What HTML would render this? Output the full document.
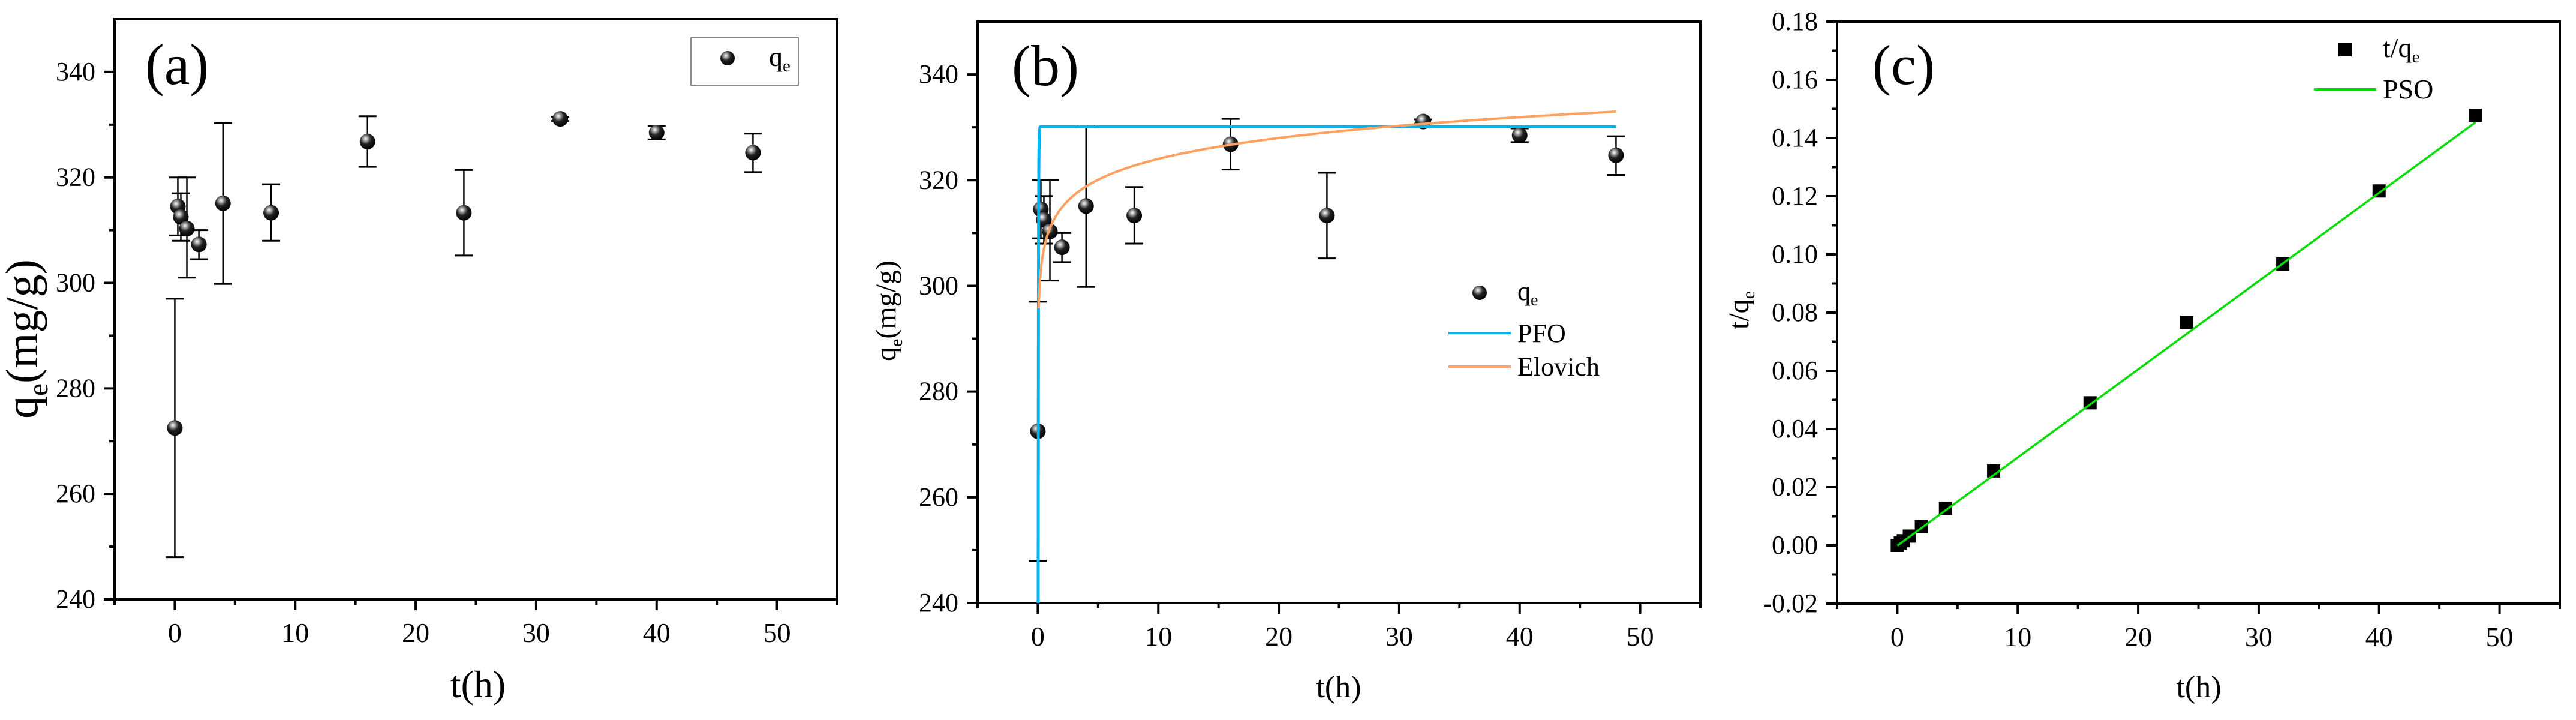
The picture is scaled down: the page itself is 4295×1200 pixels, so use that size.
<!DOCTYPE html>
<html><head><meta charset="utf-8">
<style>
html,body{margin:0;padding:0;background:#fff;}
svg{display:block;}
svg text{font-family:"Liberation Serif","Times New Roman",serif;}
</style></head>
<body>
<svg id="fig" width="4295" height="1200" viewBox="0 0 4295 1200" xmlns="http://www.w3.org/2000/svg" font-family="Liberation Serif, Times New Roman, serif">
<defs>
<radialGradient id="sph" cx="0.38" cy="0.32" r="0.7">
<stop offset="0" stop-color="#ffffff"/>
<stop offset="0.15" stop-color="#bbbbbb"/>
<stop offset="0.5" stop-color="#222"/>
<stop offset="1" stop-color="#000"/>
</radialGradient>
<clipPath id="clipB"><rect x="1630" y="36" width="1205" height="969"/></clipPath>
</defs>
<g id="root" font-family="Liberation Serif, Times New Roman, serif"></g>
</svg>
<script>
// shared data
const times = [0, 0.25, 0.5, 1, 2, 4, 8, 16, 24, 32, 40, 48];
const qeValues = [272.5, 314.5, 312.5, 310.3, 307.3, 315.1, 313.3, 326.8, 313.3, 331.1, 328.5, 324.7];
const errLow = [248, 309, 308, 301, 304.5, 299.8, 308, 322, 305.2, 330.7, 327.2, 321];
const errHigh = [297, 320, 317, 320, 310, 330.3, 318.7, 331.6, 321.4, 331.5, 329.8, 328.3];
const ratioTimes = [0, 0.25, 0.5, 1, 2, 4, 8, 16, 24, 32, 40, 48];
const ratioValues = [0.0000, 0.0008, 0.0016, 0.0032, 0.0065, 0.0127, 0.0256, 0.0490, 0.0767, 0.0967, 0.1218, 0.1478];
const psoSlope = 0.003031;
const psoIntercept = -0.0001;
const pfoQe = 330.1, pfoK = 45;
const elovichA = 310.9, elovichB = 5.7;
const xTicks = [0, 10, 20, 30, 40, 50];
const qTicks = [240, 260, 280, 300, 320, 340];
const rTicks = [-0.02, 0.00, 0.02, 0.04, 0.06, 0.08, 0.10, 0.12, 0.14, 0.16, 0.18];

const NS = "http://www.w3.org/2000/svg";
const FONT = "Liberation Serif, Times New Roman, serif";
const root = document.getElementById('root');
function mk(tag, attrs, parent){
  const e = document.createElementNS(NS, tag);
  for (const k in attrs) e.setAttribute(k, attrs[k]);
  if (tag === 'text') e.setAttribute('font-family', FONT);
  (parent||root).appendChild(e);
  return e;
}
function scale(d0,d1,r0,r1){ return v => r0 + (v-d0)/(d1-d0)*(r1-r0); }

function axes(p, yTicks, yFmt, ymin, ymax, name){
  const g = mk('g', {});
  
  
  const X = scale(-5,55,p.L,p.R), Y = scale(ymin,ymax,p.B,p.T);
  mk('rect',{x:p.L,y:p.T,width:p.R-p.L,height:p.B-p.T,fill:'none',stroke:'#000','stroke-width':4},g);
  for (let v=-5; v<=55; v+=5){
    const major = v%10===0;
    mk('line',{x1:X(v),x2:X(v),y1:p.B,y2:p.B+(major?18:9),stroke:'#000','stroke-width':4},g);
  }
  xTicks.forEach(v=>{
    const t = mk('text',{x:X(v),y:p.B+71,'font-size':46,'text-anchor':'middle'},g);
    
    
    t.textContent = v;
  });
  const step = yTicks[1]-yTicks[0];
  for (let i=0;i<yTicks.length;i++){
    const v = yTicks[i];
    mk('line',{x1:p.L-18,x2:p.L,y1:Y(v),y2:Y(v),stroke:'#000','stroke-width':4},g);
    const m = v+step/2;
    if (m < ymax) mk('line',{x1:p.L-9,x2:p.L,y1:Y(m),y2:Y(m),stroke:'#000','stroke-width':4},g);
    const t = mk('text',{x:p.L-32,y:Y(v)+14,'font-size':44,'text-anchor':'end'},g);
    
    
    t.textContent = yFmt(v);
  }
  return {X,Y};
}

function sphere(x,y,r,parent){
  const c = mk('circle',{cx:x,cy:y,r:r,fill:'url(#sph)'},parent);
  
  
  return c;
}

function qePoints(s, parent){
  times.forEach((t,i)=>{
    const x = s.X(t);
    const g = mk('g',{},parent);
    
    
    mk('line',{x1:x,x2:x,y1:s.Y(errLow[i]),y2:s.Y(errHigh[i]),stroke:'#000','stroke-width':2.5},g);
    mk('line',{x1:x-15,x2:x+15,y1:s.Y(errLow[i]),y2:s.Y(errLow[i]),stroke:'#000','stroke-width':3},g);
    mk('line',{x1:x-15,x2:x+15,y1:s.Y(errHigh[i]),y2:s.Y(errHigh[i]),stroke:'#000','stroke-width':3},g);
  });
  times.forEach((t,i)=> sphere(s.X(t), s.Y(qeValues[i]), 13, parent));
}

function qLabel(x,y,size,name,rot){
  const t = mk('text',{x:x,y:y,'font-size':size,'text-anchor':'middle'});
  if (rot) t.setAttribute('transform','rotate(-90 '+x+' '+y+')');
  
  
  t.innerHTML = 'q<tspan font-size="'+Math.round(size*0.62)+'" dy="'+Math.round(size*0.22)+'">e</tspan><tspan dy="-'+Math.round(size*0.22)+'">(mg/g)</tspan>';
}
function plain(x,y,size,txt,name,anchor){
  const t = mk('text',{x:x,y:y,'font-size':size,'text-anchor':anchor||'middle'});
  
  
  t.textContent = txt;
  return t;
}

// Panel (a)
const pa = {L:191,R:1396,T:32,B:999};
const sa = axes(pa, qTicks, v=>v, 240, 350, 'panel-a');
const ga = mk('g',{});


qePoints(sa, ga);
plain(295,140,96,'(a)','panel-a-label');
qLabel(62,565,76,'panel-a-y-axis-title',true);
plain(797,1162,64,'t(h)','panel-a-x-axis-title');
const lgA = mk('rect',{x:1152,y:63,width:179,height:79,fill:'none',stroke:'#888','stroke-width':2});


sphere(1213,97,12);
{const t=mk('text',{x:1282,y:110,'font-size':46});t.innerHTML='q<tspan font-size="29" dy="9">e</tspan>';}

// Panel (b)
const pb = {L:1630,R:2835,T:36,B:1005};
const sb = axes(pb, qTicks, v=>v, 240, 350, 'panel-b');
const gb = mk('g',{'clip-path':'url(#clipB)'});


let pfo='', elo='';
for (let i=0;i<=1200;i++){
  const t = 0.02 + (48-0.02)*Math.pow(i/1200,2.2);
  const q1 = pfoQe*(1-Math.exp(-pfoK*t));
  pfo += (i?'L':'M') + sb.X(t).toFixed(1)+','+Math.min(sb.Y(q1),1100).toFixed(1);
  const t2 = 0.07 + (48-0.07)*Math.pow(i/1200,2.2);
  const q2 = elovichA + elovichB*Math.log(t2);
  elo += (i?'L':'M') + sb.X(t2).toFixed(1)+','+sb.Y(q2).toFixed(1);
}
qePoints(sb, gb);
{const p=mk('path',{d:pfo,fill:'none',stroke:'#00b4f0','stroke-width':5},gb);}
{const p=mk('path',{d:elo,fill:'none',stroke:'#ffa060','stroke-width':4},gb);}
plain(1743,142,96,'(b)','panel-b-label');
qLabel(1493,518,48,'panel-b-y-axis-title',true);
plain(2232,1162,52,'t(h)','panel-b-x-axis-title');
sphere(2467,488,12);
{const t=mk('text',{x:2530,y:500,'font-size':44});t.innerHTML='q<tspan font-size="28" dy="9">e</tspan>';}
{const l=mk('line',{x1:2415,x2:2519,y1:555,y2:555,stroke:'#00b4f0','stroke-width':4});}
plain(2530,570,44,'PFO','legend-entry','start');
{const l=mk('line',{x1:2415,x2:2519,y1:611,y2:611,stroke:'#ffa060','stroke-width':4});}
plain(2530,626,44,'Elovich','legend-entry','start');

// Panel (c)
const pc = {L:3063,R:4268,T:36,B:1006};
const sc = axes(pc, rTicks, v=>v.toFixed(2), -0.02, 0.18, 'panel-c');
const gc = mk('g',{});


ratioTimes.forEach((t,i)=>{
  const r = mk('rect',{x:sc.X(t)-11,y:sc.Y(ratioValues[i])-11,width:22,height:22,fill:'#000'},gc);
  
  
});
{const l=mk('line',{x1:sc.X(0),y1:sc.Y(psoIntercept),x2:sc.X(48),y2:sc.Y(psoIntercept+psoSlope*48),stroke:'#00dd00','stroke-width':3.5},gc);
}
plain(3174,140,94,'(c)','panel-c-label');
{const t=mk('text',{x:2915,y:517,'font-size':48,'text-anchor':'middle',transform:'rotate(-90 2915 517)'});t.innerHTML='t/q<tspan font-size="30" dy="10">e</tspan>';}
plain(3666,1162,52,'t(h)','panel-c-x-axis-title');
{const r=mk('rect',{x:3899,y:72,width:22,height:22,fill:'#000'});}
{const t=mk('text',{x:3973,y:95,'font-size':46});t.innerHTML='t/q<tspan font-size="29" dy="9">e</tspan>';}
{const l=mk('line',{x1:3858,x2:3962,y1:149,y2:149,stroke:'#00dd00','stroke-width':4});}
plain(3973,164,46,'PSO','legend-entry','start');
</script>
</body></html>
